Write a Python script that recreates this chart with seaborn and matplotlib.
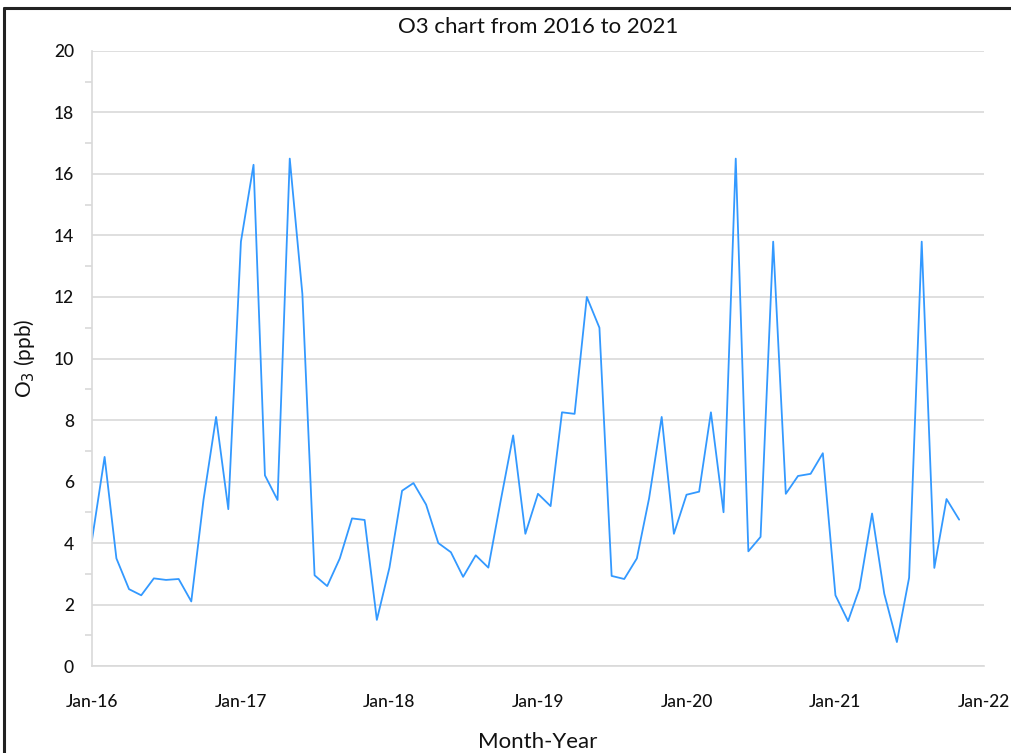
import numpy as np
import pandas as pd
import matplotlib
matplotlib.use("Agg")
import matplotlib.pyplot as plt
import matplotlib.dates as mdates
from matplotlib.ticker import MultipleLocator
from matplotlib.lines import Line2D
import seaborn as sns

# Monthly mean O3 concentration (ppb), Jan 2016 - Nov 2021
o3_2016 = [4.1, 6.8, 3.5, 2.5, 2.3, 2.85, 2.8, 2.83, 2.1, 5.4, 8.1, 5.1]
o3_2017 = [13.8, 16.3, 6.2, 5.4, 16.5, 12.1, 2.95, 2.6, 3.5, 4.8, 4.75, 1.5]
o3_2018 = [3.2, 5.7, 5.95, 5.25, 4.0, 3.7, 2.9, 3.6, 3.2, 5.35, 7.5, 4.3]
o3_2019 = [5.6, 5.2, 8.25, 8.2, 12.0, 11.0, 2.93, 2.83, 3.5, 5.45, 8.1, 4.3]
o3_2020 = [5.57, 5.67, 8.25, 5.0, 16.5, 3.73, 4.2, 13.8, 5.6, 6.18, 6.25, 6.92]
o3_2021 = [2.3, 1.46, 2.52, 4.96, 2.35, 0.78, 2.87, 13.8, 3.19, 5.43, 4.76]

values = o3_2016 + o3_2017 + o3_2018 + o3_2019 + o3_2020 + o3_2021
months = pd.date_range("2016-01-01", periods=len(values), freq="MS")
year_ticks = pd.date_range("2016-01-01", "2022-01-01", freq="YS")

df = pd.DataFrame({"Month": months, "O3": values})

sns.set_theme(style="white")
plt.rcParams["font.family"] = ["Lato", "DejaVu Sans"]

fig = plt.figure(figsize=(10.12, 7.53), dpi=100)
ax = fig.add_axes([0.0909, 0.1155, 0.8814, 0.8168])

grid_c = "#d9d9d9"
text_c = "#111111"
sns.lineplot(data=df, x="Month", y="O3", ax=ax, color="#3399ff", linewidth=1.3)

ax.set_xlim(year_ticks[0], year_ticks[-1])
ax.set_ylim(0, 20)
ax.set_xticks(year_ticks)
ax.xaxis.set_major_formatter(mdates.DateFormatter("%b-%y"))
ax.yaxis.set_major_locator(MultipleLocator(2))
ax.yaxis.set_minor_locator(MultipleLocator(1))

ax.grid(axis="y", which="major", color=grid_c, linewidth=1.2)
ax.grid(axis="x", visible=False)
ax.set_axisbelow(True)

for side in ("top", "right"):
    ax.spines[side].set_visible(False)
for side in ("left", "bottom"):
    ax.spines[side].set_color(grid_c)
    ax.spines[side].set_linewidth(1.2)

ax.tick_params(axis="x", which="major", direction="out", length=9, width=1.2,
               color=grid_c, labelsize=12.5, labelcolor=text_c, pad=11)
ax.tick_params(axis="y", which="major", direction="out", length=5, width=1.2,
               color=grid_c, labelsize=12.5, labelcolor=text_c, pad=8)
ax.tick_params(axis="y", which="minor", direction="out", length=5, width=1.2,
               color=grid_c, left=True)
for lbl in ax.get_xticklabels() + ax.get_yticklabels():
    lbl.set_fontweight("medium")

ax.set_xlabel("Month-Year", fontsize=16, color=text_c, labelpad=16)
ax.set_ylabel("O$_3$ (ppb)", fontsize=15, color=text_c, labelpad=12)
ax.set_title("O3 chart from 2016 to 2021", fontsize=16, color=text_c, pad=13)

# frame edges along the top and left of the figure
fig.add_artist(Line2D([0.004, 0.004], [0.0, 0.99], transform=fig.transFigure,
                      color="#222222", linewidth=2.2))
fig.add_artist(Line2D([0.004, 1.0], [0.99, 0.99], transform=fig.transFigure,
                      color="#222222", linewidth=2.2))

fig.savefig("out.png", dpi=100)
